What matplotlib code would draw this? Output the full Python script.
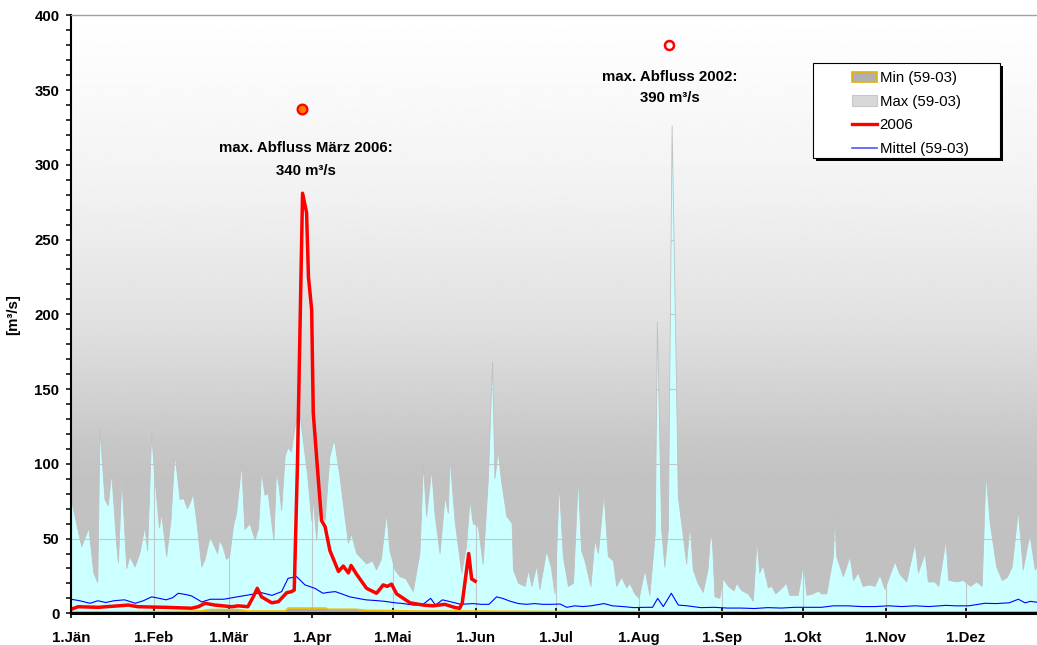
import matplotlib
matplotlib.use("Agg")
import matplotlib.pyplot as plt
import numpy as np
from matplotlib.lines import Line2D
from matplotlib.patches import Patch, Rectangle

plt.rcParams["font.family"] = ["Liberation Sans", "DejaVu Sans"]

# day of year (0 = 1. Jänner) and discharge in m3/s
max_days = [0, 4, 6.7, 8.5, 10, 10.8, 12.7, 13.9, 15.2, 17, 17.7, 19, 20.8, 22, 23.9, 25.7, 27.6,
            28.6, 30.1, 31.3, 33, 33.8, 35.7, 37.3, 38.8, 40.7, 42, 43.5, 44.5, 45.6, 46.9, 48.8,
            50, 51.9, 53, 54.7, 55.5, 56.8, 58, 59.2, 60.6, 61.8, 63.7, 64.9, 66.8, 68.7, 70,
            71.1, 72.4, 73.6, 75.7, 76.7, 77.7, 78.6, 79.9, 81, 82.2, 83.6, 85.4, 87.3, 88.5,
            89.8, 90.4, 91.7, 92.5, 94.8, 96.6, 97.9, 98.4, 100.4, 102.2, 103.5, 104.7, 106.6,
            110.3, 112.5, 114, 115.8, 117.8, 119, 120.9, 122.8, 125, 127.7, 130.2, 131.5, 132.7,
            134.6, 135.8, 137.7, 139.6, 140.8, 141.4, 143.3, 145.8, 147.6, 148.9, 150.1, 152,
            153.8, 155.7, 157.3, 158.2, 159.4, 160.6, 162.6, 164.6, 165.1, 167, 169.5, 170.7,
            172, 173.8, 175, 177.5, 179.3, 180.6, 182.2, 183.7, 185.6, 187.5, 189.3, 190.5,
            191.8, 194, 195.5, 196.8, 198.9, 200.5, 202.4, 203.6, 205.5, 207.4, 208.6, 210.4,
            212, 214.2, 216, 218, 218.8, 220.4, 221.6, 222.9, 224.3, 225.5, 226.6, 228.5,
            229.7, 231, 232.2, 234, 235.9, 237.7, 238.6, 239.3, 240.3, 242.1, 243.4, 245.3,
            247.4, 248.4, 250.4, 252.7, 254.6, 256, 257, 258.3, 260.2, 261.5, 263, 264.9, 267,
            268.2, 271.4, 273.3, 274.6, 277, 278.9, 280, 282, 284.5, 285, 285.7, 288.2, 290.7,
            292, 293.8, 295.6, 298, 300, 301.9, 303.7, 307.5, 309.3, 311.8, 315, 316.2, 318.7,
            319.9, 322.3, 323.8, 326.5, 327.5, 330.6, 333, 335.6, 338, 340, 341.4, 343, 345.4,
            347.5, 349.4, 351.2, 353.5, 355.3, 357.8, 359.8, 362, 365]
max_vals = [77, 44.5, 57, 27, 20.5, 124, 76, 72, 94, 47, 33.6, 91, 30, 38, 31, 40, 58,
            42, 121, 91, 57, 67, 38, 62, 107, 76, 77, 70, 74, 80, 62, 31,
            36, 51, 47, 40, 49, 44, 36, 38, 58, 67, 100, 56, 60, 49, 57,
            95, 79, 80, 49, 96, 84, 69, 105, 111, 108, 125, 134, 107, 89,
            62, 76, 49, 72, 62, 105, 114, 115, 91, 65, 47, 53, 40,
            33, 35, 29, 36, 67, 42, 29, 24.5, 23, 14.5, 40, 100, 65,
            96, 67, 40, 78, 67, 105, 62, 27, 45, 76, 60, 58,
            33, 89, 168, 90, 109, 89, 65, 60, 29, 20, 18, 29,
            18, 32, 16, 42, 30, 13, 87, 38, 18, 20, 91, 42,
            35, 18, 49, 40, 80, 38, 35, 18, 24, 17, 20, 13,
            10, 29, 12, 53, 195, 56, 31, 56, 326, 200, 78, 51,
            33, 60, 29, 20, 14, 29, 51, 50, 11, 10, 23, 18,
            15, 20, 15, 13, 8, 49, 27, 32, 17, 18, 13, 16, 20,
            12, 12, 33, 12, 13, 15, 13, 13, 38, 65, 38, 24.5, 38,
            22, 27, 18, 19, 18, 25.6, 16, 34.5, 26, 21, 47, 27, 40,
            21, 21, 18, 49, 22, 21, 22, 18, 21, 18, 94, 60, 31,
            22, 24, 31, 69, 29, 53, 29, 35, 40]

min_days = [0, 20, 40, 48, 52, 62, 66, 80, 81, 95, 96, 106, 110, 130, 150, 180, 220, 260, 300, 340, 365]
min_vals = [1, 1, 1.2, 1.5, 2.5, 2.5, 1.5, 1.5, 3.5, 3.5, 2.7, 2.7, 2, 1.5, 1.5, 1.2, 1, 1, 1, 1, 1]

mean_days = [0, 3, 7.1, 10, 13, 16, 20, 24, 27, 30.1, 33, 35.5, 38, 40, 43, 45, 48.8, 52, 57,
             61, 66, 71.1, 75, 78.6, 81, 84.2, 87.3, 91, 94, 96, 98.6, 101, 104, 107, 110, 114,
             117, 121, 124, 127.7, 131, 134.2, 136, 138.6, 141, 145.5, 150, 153, 156, 158.8,
             161, 164, 167, 170, 173, 176, 179, 182.5, 185, 188, 191, 194, 198.9, 202, 206,
             210, 214, 217, 218.9, 221, 224, 226.6, 230, 235, 240, 245, 250, 255, 260, 265,
             270, 275, 280, 284.5, 290, 295, 300, 305, 310, 315, 320, 326.5, 330, 335, 341,
             345, 350, 353.5, 356, 358, 362, 365]
mean_vals = [9.4, 8.5, 6.7, 8.4, 7.2, 8.4, 9, 6.7, 8.4, 11, 10, 9, 10.5, 13.4, 12.5, 11.6, 7.6, 9.4, 9.4,
             10.7, 12.2, 13.8, 12, 14.5, 23.4, 24.5, 19, 16.7, 13.4, 14, 14.5, 13, 11, 10, 9, 8.5,
             8, 7, 6.5, 5.5, 5.5, 10, 5.5, 9, 8, 6, 6.5, 6, 6, 11,
             10, 8, 6.5, 6, 6.5, 6, 6, 6.2, 4, 5, 4.5, 5, 6.5, 5, 4.5,
             3.8, 4, 4, 10, 4.5, 13.4, 5.5, 5, 3.8, 4, 3.5, 3.5, 3.2, 3.8, 3.5,
             4, 4, 4, 5, 5, 4.5, 4.5, 5, 4.5, 5, 4.5, 5.3, 5, 5, 6.7,
             6.5, 7, 9.4, 7, 8, 7, 7]

y2006_days = [0, 2.7, 10.2, 21.4, 25, 35, 45, 47.5, 50, 53.7, 60, 62.4, 66, 68, 69.5, 71.1,
              74.9, 77.4, 80.5, 82.3, 83.3, 84.5, 86.4, 87.9, 88.6, 89.8, 90.4, 92.3, 93.5,
              94.8, 96.6, 99.8, 101.6, 103.5, 104.5, 106.6, 110.3, 114, 116.5, 118, 119.6,
              121.5, 126.5, 131.5, 135, 139.5, 143, 145, 146, 148.4, 149.5, 150.8]
y2006_vals = [2.7, 4.4, 4, 5.5, 4.4, 4, 3.4, 4.4, 6.7, 5.5, 4.4, 5, 4.4, 11, 16.7, 11,
              7, 7.8, 13.8, 14.5, 15.6, 100, 281, 268, 225, 203, 134, 89, 62,
              58, 42, 28, 31.6, 27, 32, 26, 16.7, 13.4, 19, 18, 19.5,
              13, 7, 5.5, 5, 6, 4, 3.3, 7, 40, 23, 21.5]

month_starts = [0, 31, 59, 90, 120, 151, 181, 212, 243, 273, 304, 334]
month_labels = ["1.Jän", "1.Feb", "1.Mär", "1.Apr", "1.Mai", "1.Jun",
                "1.Jul", "1.Aug", "1.Sep", "1.Okt", "1.Nov", "1.Dez"]

peak_2006 = (86.2, 337)
peak_2002 = (223.3, 380)

fig = plt.figure(figsize=(10.37, 6.45), dpi=100)
ax = fig.add_axes([71 / 1037, 31.7 / 645, 365 * 2.68 / 1037, 598 / 645])
ax.set_facecolor("#ccffff")
ax.set_axisbelow(True)
ax.grid(True, which="major", color="#c0c8c8", lw=0.8)

# grey gradient above the Max curve, it hides the grid there
above_max = ax.fill_between(max_days, max_vals, 400, facecolor="none", edgecolor="#c0c0c0",
                            lw=0.6, zorder=1.1)
levels = np.linspace(0, 400, 400)
grey = np.interp(levels, [0, 90, 116, 156, 200, 290, 400],
                 [192, 194, 200, 213, 226, 243, 255]) / 255.0
grad = np.repeat(grey[:, None], 2, axis=1)
img = ax.imshow(grad, cmap="gray", vmin=0, vmax=1, origin="lower", aspect="auto",
                extent=[0, 366, 0, 400], zorder=1)
img.set_clip_path(above_max.get_paths()[0], ax.transData)

ax.fill_between(min_days, 0, min_vals, color="#a8a8a8", lw=0, zorder=1.2)
ax.plot(min_days, min_vals, color="#f0c000", lw=1.2, zorder=2.1)
ax.plot(mean_days, mean_vals, color="#0000ff", lw=0.8, zorder=2.2)
ax.plot(y2006_days, y2006_vals, color="#ff0000", lw=2.5, zorder=2.3, solid_joinstyle="round")

ax.plot(*peak_2006, marker="o", ms=7, mfc="#ff7f00", mec="#ff0000", mew=1.6, zorder=3)
ax.plot(*peak_2002, marker="o", ms=6.5, mfc="white", mec="#ff0000", mew=1.8, zorder=3)

bold = dict(fontsize=10.8, fontweight="bold", ha="center", va="center")
ax.text(87.6, 311, "max. Abfluss März 2006:", **bold)
ax.text(87.6, 296, "340 m³/s", **bold)
ax.text(223.5, 359, "max. Abfluss 2002:", **bold)
ax.text(223.5, 345, "390 m³/s", **bold)

ax.set_xlim(0, 365)
ax.set_ylim(0, 400)
ax.set_xticks(month_starts)
ax.set_xticklabels(month_labels)
ax.set_yticks(np.arange(0, 401, 50))
ax.set_yticks(np.arange(0, 401, 10), minor=True)
ax.tick_params(axis="x", direction="inout", length=7, width=1.2, pad=9, labelsize=10.8)
ax.tick_params(axis="y", which="both", direction="out", length=3.3, width=1.1, pad=5, labelsize=10.8)
for lab in ax.get_xticklabels() + ax.get_yticklabels():
    lab.set_fontweight("bold")

ax.spines["left"].set_linewidth(1.5)
ax.spines["bottom"].set_linewidth(2.2)
ax.spines["top"].set_color("#a0a0a0")
ax.spines["top"].set_linewidth(1.0)
ax.spines["right"].set_visible(False)

ax.set_ylabel("[m³/s]", fontsize=10.8, fontweight="bold")
ax.yaxis.set_label_coords(-0.052, 0.5)

# legend with a drop shadow
fig.add_artist(Rectangle((816 / 1037, (645 - 161) / 645), 187 / 1037, 95 / 645,
                         transform=fig.transFigure, facecolor="black", edgecolor="none", zorder=3))
fig.add_artist(Rectangle((813 / 1037, (645 - 158) / 645), 187 / 1037, 95 / 645,
                         transform=fig.transFigure, facecolor="white", edgecolor="black",
                         lw=0.8, zorder=4))
handles = [
    Patch(facecolor="#b0b0b0", edgecolor="#e8b000", lw=1.2),
    Patch(facecolor="#d8d8d8", edgecolor="#c8c8c8", lw=0.8),
    Line2D([], [], color="#ff0000", lw=2.4),
    Line2D([], [], color="#5555ff", lw=1.2),
]
labels = ["Min (59-03)", "Max (59-03)", "2006", "Mittel (59-03)"]
fig.legend(handles, labels, loc="upper left", bbox_to_anchor=(852 / 1037, 1 - 71 / 645),
           frameon=False, fontsize=10.8, borderpad=0, borderaxespad=0,
           handlelength=1.65, handletextpad=0.2, labelspacing=0.64)

fig.savefig("out.png", dpi=100)
